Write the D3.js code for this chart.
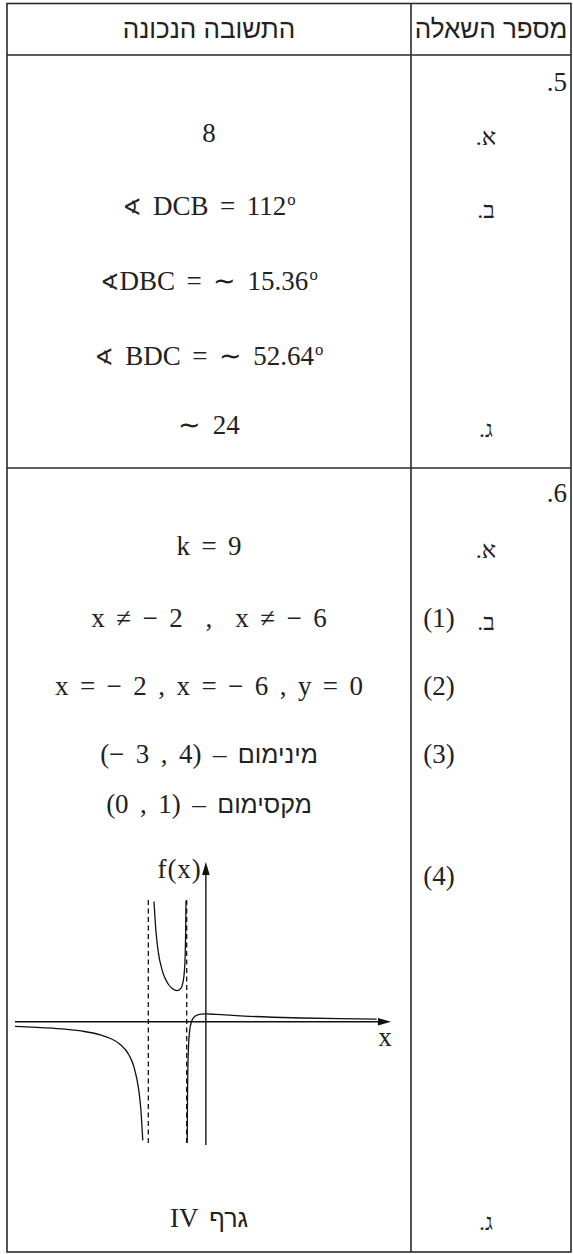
<!DOCTYPE html>
<html>
<head>
<meta charset="utf-8">
<script src="https://cdn.jsdelivr.net/npm/d3@7"></script>
<style>
  body { margin: 0; background: #fff; }
  text { white-space: pre; }
</style>
</head>
<body>
<script>
// ---- table content ----
var headers = ["התשובה הנכונה", "מספר השאלה"];

// question 5: label + answers, one entry per line
var q5Num = ".5";
var q5Parts = [".א", ".ב", "", "", ".ג"];
var q5Answers = [
  [["8", "m"]],
  [["∢", "s"], [" DCB = 112", "m"], ["o", "sup"]],
  [["∢", "s"], ["DBC = ∼ 15.36", "m"], ["o", "sup"]],
  [["∢", "s"], [" BDC = ∼ 52.64", "m"], ["o", "sup"]],
  [["∼ 24", "m"]]
];

// question 6
var q6Num = ".6";
var q6Parts = [".א", ".ב", "", "", "", "", ".ג"];
var q6Sub = ["", "(1)", "(2)", "(3)", "", "(4)", ""];
var q6Answers = [
  [["k = 9", "m"]],
  [["x ≠ − 2  ,  x ≠ − 6", "m"]],
  [["x = − 2 , x = − 6 , y = 0", "m"]],
  [["(− 3 , 4) – ", "m"], ["מינימום", "h"]],
  [["(0 , 1) – ", "m"], ["מקסימום", "h"]],
  null, // the graph
  [["IV ", "m"], ["גרף", "h"]]
];

// ---- graph of f(x): asymptotes, axis labels, branches ----
var asymptotes = [-6, -2];
var axisLabels = { x: "x", y: "f(x)" };
var leftBranch = [[-19.9, -0.59], [-16, -0.83], [-13, -1.19], [-11, -1.69], [-10, -2.13],
  [-9, -2.86], [-8, -4.33], [-7.5, -5.82], [-7, -8.8], [-6.9, -9.8], [-6.8, -11.0], [-6.58, -15.3]];
var midBranch = [[-5.41, 15.5], [-5.2, 11.6], [-5, 9.3], [-4.5, 6.4], [-4, 5], [-3.5, 4.27],
  [-3, 4], [-2.6, 4.31], [-2.4, 5], [-2.25, 6.4], [-2.15, 9], [-2.1, 12.3], [-2.075, 15.6]];
var rightBranch = [[-1.944, -15.6], [-1.92, -10.3], [-1.9, -7.8], [-1.85, -4.5], [-1.8, -2.86],
  [-1.7, -1.24], [-1.5, 0], [-1.2, 0.63], [-1, 0.8], [-0.5, 0.97], [0, 1], [1, 0.95], [2, 0.88],
  [4, 0.73], [7, 0.58], [10, 0.48], [14, 0.39], [17.8, 0.33]];

// ---- layout ----
var W = 573, H = 1254,
    tLeft = 7, tRight = 571, tTop = 3.5, tBottom = 1252,
    divX = 411, headY = 55, rowDiv = 468,
    ansX = 209, subX = 439, partX = 486, numX = 567;

var q5Y = 91, q5Lines = [142, 215, 290, 365, 434];
var q6Y = 502, q6Lines = [555, 627, 695, 763, 813, 885, 1227];

var serif = "'Liberation Serif', 'Times New Roman', serif",
    sans = "'Liberation Sans', 'DejaVu Sans', sans-serif",
    fs = 27, ink = "#222",
    LRM = "\u200E"; // keeps the math runs strictly left to right

var svg = d3.select("body").append("svg")
  .attr("width", W).attr("height", H);

// table lines
var g = svg.append("g").attr("stroke", "#2a2a2a").attr("stroke-width", 1.6);
g.append("rect").attr("x", tLeft).attr("y", tTop)
  .attr("width", tRight - tLeft).attr("height", tBottom - tTop).attr("fill", "none");
g.append("line").attr("x1", tLeft).attr("x2", tRight).attr("y1", headY).attr("y2", headY);
g.append("line").attr("x1", tLeft).attr("x2", tRight).attr("y1", rowDiv).attr("y2", rowDiv);
g.append("line").attr("x1", divX).attr("x2", divX).attr("y1", tTop).attr("y2", tBottom);

// headers
svg.selectAll("text.head").data(headers).enter().append("text")
  .attr("class", "head")
  .attr("x", function(d, i) { return i ? (divX + tRight) / 2 : (tLeft + divX) / 2; })
  .attr("y", 38)
  .attr("text-anchor", "middle")
  .attr("font-family", sans).attr("font-size", 26).attr("fill", ink)
  .text(function(d) { return d; });

// one answer line: each part is its own text element (keeps bidi out of the way),
// laid out left to right and then centred on the column
function answerLine(parts, yBase) {
  var row = svg.append("g"), cursor = 0;
  parts.forEach(function(p) {
    var t = row.append("text")
      .attr("x", cursor).attr("y", yBase)
      .attr("direction", "ltr")
      .attr("font-family", serif).attr("font-size", fs).attr("fill", ink)
      .attr("word-spacing", 4.7)
      .text(p[1] === "h" ? p[0] : LRM + p[0] + LRM);
    if (p[1] === "h") t.attr("font-family", sans).attr("font-size", fs - 2).attr("word-spacing", 0);
    else if (p[1] === "s") t.attr("font-family", "'DejaVu Sans', sans-serif").attr("font-size", fs - 4);
    else if (p[1] === "sup") t.attr("font-size", fs * 0.62).attr("y", yBase - fs * 0.36).attr("x", cursor + 1);
    cursor += t.node().getComputedTextLength() + (p[1] === "sup" ? 1 : 0);
  });
  row.attr("transform", "translate(" + (ansX - cursor / 2) + ",0)");
}

function answers(list, ys) {
  list.forEach(function(parts, i) {
    if (parts) answerLine(parts, ys[i]);
  });
}

function labels(list, ys, x, font, size) {
  list.forEach(function(s, i) {
    if (!s) return;
    svg.append("text").attr("x", x).attr("y", ys[i] + 3)
      .attr("text-anchor", "middle")
      .attr("font-family", font).attr("font-size", size).attr("fill", ink)
      .text(s);
  });
}

// question numbers
[[q5Num, q5Y], [q6Num, q6Y]].forEach(function(d) {
  svg.append("text").attr("x", numX).attr("y", d[1])
    .attr("text-anchor", "end")
    .attr("font-family", serif).attr("font-size", fs).attr("fill", ink)
    .text(d[0]);
});

answers(q5Answers, q5Lines);
labels(q5Parts, q5Lines, partX, serif, 24);
answers(q6Answers, q6Lines);
labels(q6Parts, q6Lines, partX, serif, 24);
labels(q6Sub, q6Lines.map(function(y) { return y - 3; }), subX, serif, fs);

// ---- graph ----
var x = d3.scaleLinear().domain([-19.9, 19.3]).range([15, 391]);
var y = d3.scaleLinear().domain([-15.9, 15.7]).range([1145, 900]);
var yTop = 20.6;

var gr = svg.append("g").attr("fill", "none").attr("stroke", "#111");

// axes
gr.append("line").attr("stroke-width", 1.4)
  .attr("x1", x(-19.9)).attr("x2", x(19.3) - 10).attr("y1", y(0)).attr("y2", y(0));
gr.append("line").attr("stroke-width", 1.4)
  .attr("x1", x(0)).attr("x2", x(0)).attr("y1", y(-15.9)).attr("y2", y(yTop) + 10);
gr.append("path").attr("fill", "#111").attr("stroke", "none")
  .attr("d", "M" + x(19.3) + "," + y(0) + "l-13,-3.8v7.6z");
gr.append("path").attr("fill", "#111").attr("stroke", "none")
  .attr("d", "M" + x(0) + "," + y(yTop) + "l-3.8,13h7.6z");

// asymptotes
gr.selectAll("line.asym").data(asymptotes).enter().append("line")
  .attr("class", "asym")
  .attr("stroke-width", 1.3).attr("stroke-dasharray", "5,3.5")
  .attr("x1", function(d) { return x(d); }).attr("x2", function(d) { return x(d); })
  .attr("y1", y(15.7)).attr("y2", y(-15.9));

var line = d3.line()
  .x(function(d) { return x(d[0]); })
  .y(function(d) { return y(d[1]); })
  .curve(d3.curveMonotoneX);

gr.selectAll("path.branch").data([leftBranch, midBranch, rightBranch]).enter()
  .append("path").attr("class", "branch")
  .attr("stroke-width", 1.3)
  .attr("d", line);

// axis labels
svg.append("text").attr("x", x(19.3) - 6).attr("y", y(0) + 24)
  .attr("text-anchor", "middle")
  .attr("font-family", serif).attr("font-size", fs).attr("fill", ink)
  .text(axisLabels.x);
svg.append("text").attr("x", x(0) - 4).attr("y", 878)
  .attr("text-anchor", "end")
  .attr("letter-spacing", 1)
  .attr("font-family", serif).attr("font-size", fs).attr("fill", ink)
  .text(axisLabels.y);
</script>
</body>
</html>
